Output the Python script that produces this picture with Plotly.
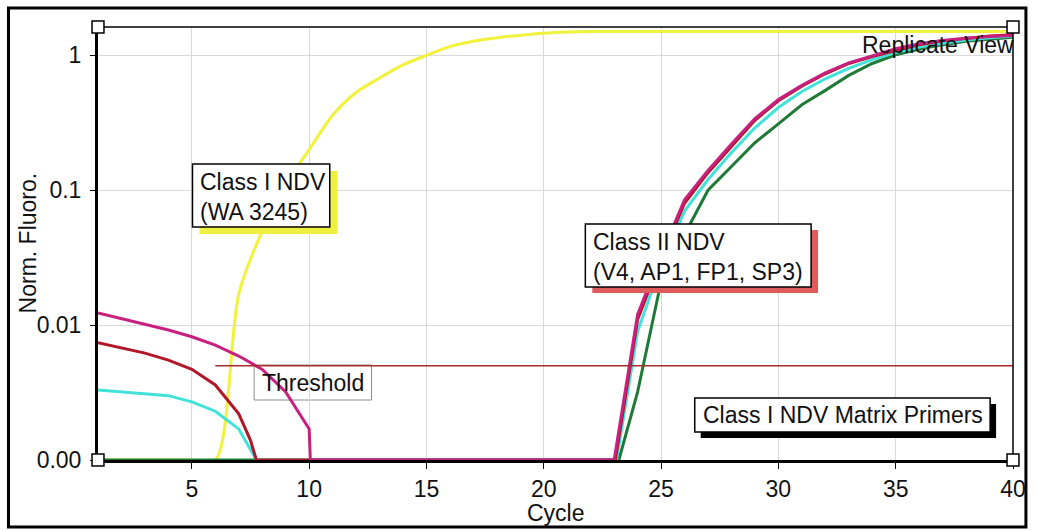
import plotly.graph_objects as go

# ---- data: normalised fluorescence per amplification cycle -------------
# Class I NDV (WA 3245)
wa3245_cycles = list(range(1, 41))
wa3245_fluoro = [0, 0, 0, 0, 0, 0, 0.017, 0.05, 0.11, 0.2,
                 0.36, 0.53, 0.68, 0.85, 1.0, 1.16, 1.27, 1.35, 1.41, 1.46,
                 1.49, 1.5, 1.5, 1.5, 1.5, 1.5, 1.5, 1.5, 1.5, 1.5,
                 1.5, 1.5, 1.5, 1.5, 1.5, 1.5, 1.5, 1.5, 1.5, 1.5]

# Class II NDV samples
green_cycles = [1, 23.2] + list(range(24, 41))
green_fluoro = [0, 0, 0.0032, 0.021, 0.047, 0.1, 0.15, 0.225, 0.31, 0.43,
                0.55, 0.71, 0.87, 1.01, 1.11, 1.2, 1.27, 1.32, 1.36]

cyan_cycles = [1, 2, 3, 4, 5, 6, 7, 7.5, 7.75, 23.1] + list(range(24, 41))
cyan_fluoro = [0.0033, 0.0032, 0.0031, 0.003, 0.0027, 0.0023, 0.0017, 0.0012, 0, 0,
               0.009, 0.028, 0.07, 0.12, 0.19, 0.29, 0.41, 0.54, 0.67, 0.8,
               0.93, 1.05, 1.15, 1.23, 1.3, 1.35, 1.39]

red_cycles = [1, 2, 3, 4, 5, 6, 7, 7.5, 7.75, 23.05] + list(range(24, 41))
red_fluoro = [0.0074, 0.0068, 0.0062, 0.0055, 0.0047, 0.0036, 0.0022, 0.0014, 0, 0,
              0.011, 0.031, 0.08, 0.135, 0.21, 0.33, 0.46, 0.59, 0.73, 0.87,
              0.98, 1.09, 1.2, 1.28, 1.34, 1.39, 1.42]

magenta_cycles = [1, 2, 3, 4, 5, 6, 7, 8, 9, 10, 10.05] + list(range(23, 41))
magenta_fluoro = [0.0123, 0.0112, 0.0102, 0.0092, 0.0082, 0.0071, 0.0059, 0.0047, 0.0032, 0.0017, 0,
                  0, 0.012, 0.033, 0.085, 0.14, 0.22, 0.34, 0.47, 0.6, 0.74,
                  0.88, 0.99, 1.12, 1.22, 1.29, 1.34, 1.38, 1.40]

threshold_cycles = [6, 40]
threshold_value = 0.005

y_tick_values = [0.001, 0.01, 0.1, 1]
y_tick_labels = ["0.00", "0.01", "0.1", "1"]
x_tick_values = [5, 10, 15, 20, 25, 30, 35, 40]

Y_FLOOR = 0.001  # zero readings sit on the "0.00" baseline of the log axis


def on_log(values):
    return [max(v, Y_FLOOR) for v in values]


# ---- figure geometry (pixels) ----------------------------------------
W, H = 1038, 531
PL, PR, PT, PB = 98, 1018, 27, 460


def fx(p):
    return (p - PL) / (PR - PL)


def fy(p):
    return (PB - p) / (PB - PT)


FONT = "Liberation Sans, Arial, sans-serif"
FS = 23

fig = go.Figure()

series = [
    (wa3245_cycles, wa3245_fluoro, "#F2F23C", "spline"),
    (green_cycles, green_fluoro, "#1F7A38", "linear"),
    (cyan_cycles, cyan_fluoro, "#42E2DA", "linear"),
    (red_cycles, red_fluoro, "#B0182A", "linear"),
    (magenta_cycles, magenta_fluoro, "#C8207E", "linear"),
]
for xs, ys, col, shape in series:
    fig.add_trace(go.Scatter(x=xs, y=on_log(ys), mode="lines",
                             line=dict(color=col, width=3, shape=shape, smoothing=0.8),
                             hoverinfo="skip", showlegend=False))

fig.add_trace(go.Scatter(x=threshold_cycles,
                         y=[threshold_value] * len(threshold_cycles),
                         mode="lines", line=dict(color="#A82C2C", width=1.5),
                         hoverinfo="skip", showlegend=False))

shapes = []


def rect(x0, y0, x1, y1, line_col=None, fill=None, lw=1.5, layer="above"):
    shapes.append(dict(type="rect", xref="paper", yref="paper",
                       x0=fx(x0), x1=fx(x1), y0=fy(y1), y1=fy(y0),
                       line=dict(color=line_col or "rgba(0,0,0,0)", width=lw if line_col else 0),
                       fillcolor=fill or "rgba(0,0,0,0)", layer=layer))


def hline(x0, x1, y, col="black", lw=1.5):
    shapes.append(dict(type="line", xref="paper", yref="paper",
                       x0=fx(x0), x1=fx(x1), y0=fy(y), y1=fy(y),
                       line=dict(color=col, width=lw)))


def vline(x, y0, y1, col="black", lw=1.5):
    shapes.append(dict(type="line", xref="paper", yref="paper",
                       x0=fx(x), x1=fx(x), y0=fy(y0), y1=fy(y1),
                       line=dict(color=col, width=lw)))


# outer window frame
rect(8, 8, 1031, 527, line_col="black", lw=3)
# top and right edges of the plotting area
hline(PL, PR, PT)
vline(PR, PT, PB)

# threshold label box (sits under the curves)
rect(255, 365, 373, 400, line_col="#8C8C8C", lw=1, layer="below")

# label boxes with drop shadows
rect(200, 171, 339, 234, fill="#F0F040")
rect(193, 164, 331, 227, line_col="black", fill="white")
rect(595, 230, 822, 293, fill="#E05C5C")
rect(588, 224, 815, 287, line_col="black", fill="white")
rect(704, 404, 1001, 438, fill="black")
rect(698, 398, 995, 432, line_col="black", fill="white")

# small corner handles
for cx, cy in [(PL, PT), (PL, PB), (PR, PB), (PR, PT)]:
    rect(cx - 6, cy - 6, cx + 6, cy + 6, line_col="black", fill="white", lw=1.5)

annotations = []


def label(text, x, y, xanchor="left", angle=0):
    annotations.append(dict(text=text, xref="paper", yref="paper",
                            x=fx(x), y=fy(y), xanchor=xanchor, yanchor="middle",
                            align="left", showarrow=False, textangle=angle,
                            font=dict(family=FONT, size=FS, color="#111111")))


label("Class I NDV<br>(WA 3245)", 199, 197)
label("Class II NDV<br>(V4, AP1, FP1, SP3)", 594, 257)
label("Class I NDV Matrix Primers", 704, 415)
label("Threshold", 261, 383)
label("Replicate View", 1021, 45, xanchor="right")
label("Cycle", (PL + PR) / 2, 513, xanchor="center")
label("Norm. Fluoro.", 28, 243, xanchor="center", angle=-90)

fig.update_layout(
    width=W, height=H,
    margin=dict(l=PL, r=W - PR, t=PT, b=H - PB, pad=0),
    paper_bgcolor="white", plot_bgcolor="white",
    font=dict(family=FONT, size=FS, color="#111111"),
    shapes=shapes, annotations=annotations,
    xaxis=dict(range=[1, 40], tickvals=x_tick_values,
               showgrid=True, gridcolor="#DADADA", gridwidth=1,
               zeroline=False, showline=True, linecolor="black", linewidth=3,
               ticks="outside", ticklen=6, tickcolor="black", tickwidth=1,
               ticklabelstandoff=0, layer="below traces",
               tickfont=dict(family=FONT, size=FS, color="#111111")),
    yaxis=dict(type="log", range=[-3, 0.21], tickvals=y_tick_values,
               ticktext=y_tick_labels,
               showgrid=True, gridcolor="#DADADA", gridwidth=1,
               zeroline=False, showline=True, linecolor="black", linewidth=3,
               ticks="outside", ticklen=5, tickcolor="black", tickwidth=1,
               ticklabelstandoff=4, layer="below traces",
               tickfont=dict(family=FONT, size=FS, color="#111111")),
)

fig.write_html("out.html")
